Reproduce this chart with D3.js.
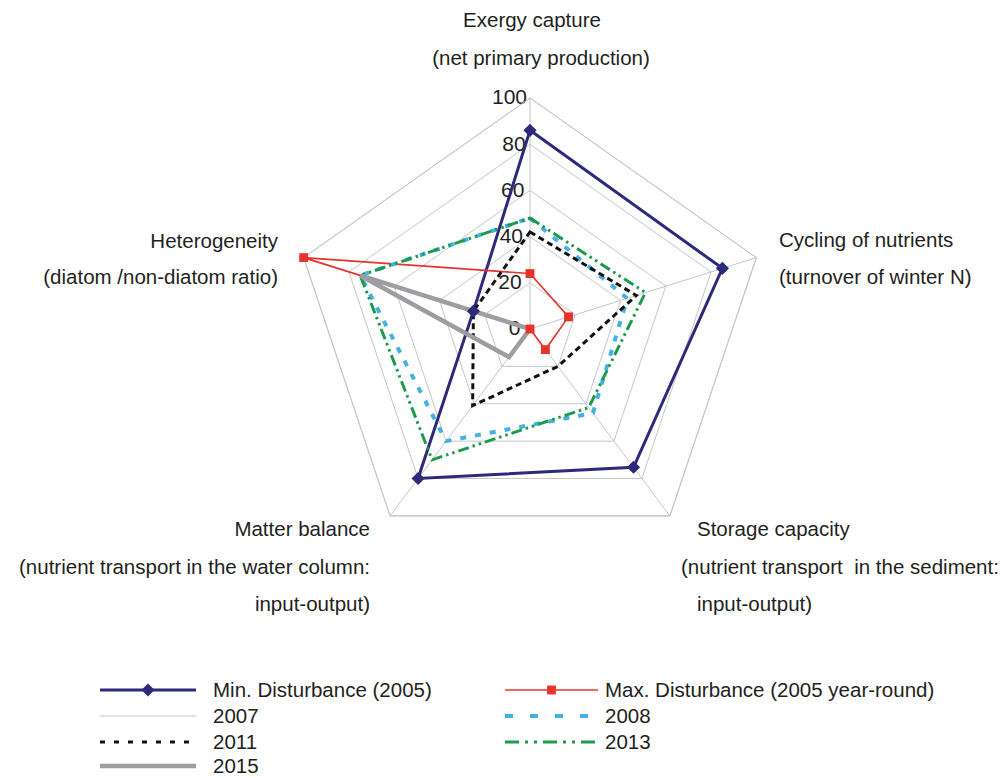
<!DOCTYPE html>
<html>
<head>
<meta charset="utf-8">
<script src="https://cdn.jsdelivr.net/npm/d3@7"></script>
<style>
  body { margin: 0; background: #fff; }
  svg text { font-family: "Liberation Sans", Arial, sans-serif; fill: #231f20; }
</style>
</head>
<body>
<div id="chart"></div>
<script>
// axes, clockwise from the top
var axes = ["Exergy capture", "Cycling of nutrients", "Storage capacity", "Matter balance", "Heterogeneity"];
var axisSub = [
  ["(net primary production)"],
  ["(turnover of winter N)"],
  ["(nutrient transport  in the sediment:", "input-output)"],
  ["(nutrient transport in the water column:", "input-output)"],
  ["(diatom /non-diatom ratio)"]
];
var ticks = [0, 20, 40, 60, 80, 100];

var seriesNames = ["Min. Disturbance (2005)", "Max. Disturbance (2005 year-round)", "2007", "2008", "2011", "2013", "2015"];
var minDist  = [86, 85, 74, 80, 25];
var maxDist  = [24, 17, 11, 0, 100];
var y2007    = [100, 100, 100, 100, 100];
var y2008    = [48, 43, 45, 60, 75];
var y2011    = [42, 47, 20, 41, 25];
var y2013    = [48, 51, 42, 70, 75];
var y2015    = [0, 0, 0, 15, 75];

var width = 1001, height = 778;
var cx = 530, cy = 329;

var svg = d3.select("#chart").append("svg")
  .attr("width", width)
  .attr("height", height);

// picture is slightly wider than tall
var rx = d3.scaleLinear().domain([0, 100]).range([0, 238]);
var ry = d3.scaleLinear().domain([0, 100]).range([0, 231]);
var angle = d3.scalePoint().domain(axes).range([0, 2 * Math.PI * 4 / 5]);

function pt(axis, v) {
  var a = angle(axis);
  return [cx + rx(v) * Math.sin(a), cy - ry(v) * Math.cos(a)];
}

// grid
var grid = svg.append("g");
ticks.slice(1).forEach(function(t) {
  grid.append("path")
    .attr("d", d3.line()(axes.map(function(a) { return pt(a, t); })) + "Z")
    .attr("fill", "none")
    .attr("stroke", "#c6c6c6")
    .attr("stroke-width", 1);
});
axes.forEach(function(a) {
  var p = pt(a, 100);
  grid.append("line")
    .attr("x1", cx).attr("y1", cy)
    .attr("x2", p[0]).attr("y2", p[1])
    .attr("stroke", "#c6c6c6")
    .attr("stroke-width", 1);
});

// tick labels along the top spoke
svg.append("g").selectAll("text")
  .data(ticks)
  .enter().append("text")
  .attr("x", function(d) { return cx - 3 - (100 - d) / 15; })
  .attr("y", function(d) { return pt(axes[0], d)[1] - 1; })
  .attr("dy", "0.35em")
  .attr("text-anchor", "end")
  .style("font-size", "21px")
  .text(function(d) { return d; });

// axis labels
var labelPos = [
  {x: [532, 541], y: [20, 58], anchor: "middle"},
  {x: [779, 779], y: [240, 277], anchor: "start"},
  {x: [697, 681, 697], y: [529, 567, 604], anchor: "start"},
  {x: [370, 370, 370], y: [529, 567, 604], anchor: "end"},
  {x: [278, 278], y: [241, 277], anchor: "end"}
];
axes.forEach(function(a, i) {
  var lines = [a].concat(axisSub[i]);
  var lp = labelPos[i];
  svg.append("g").selectAll("text")
    .data(lines)
    .enter().append("text")
    .attr("x", function(d, j) { return lp.x[j]; })
    .attr("y", function(d, j) { return lp.y[j]; })
    .attr("dy", "0.35em")
    .attr("text-anchor", lp.anchor)
    .style("font-size", "20.5px")
    .style("white-space", "pre")
    .text(function(d) { return d; });
});

var styles = [
  {color: "#2e2a7b", w: 3, dash: null, marker: "diamond"},
  {color: "#e8332a", w: 1.6, dash: null, marker: "square"},
  {color: "#c6c6c6", w: 1, dash: null},
  {color: "#45b1e2", w: 4, dash: "6,9"},
  {color: "#111111", w: 3, dash: "6,4"},
  {color: "#1d9a4c", w: 3, dash: "11,4,2.5,4,2.5,4"},
  {color: "#9c9ea2", w: 4.5, dash: null}
];
// legend samples are drawn with wider gaps, like the original
var legendDash = [null, null, null, "8,17", "5,9", "14,6,3,6,3,6", null];
var allSeries = [minDist, maxDist, y2007, y2008, y2011, y2013, y2015];

var lineGen = d3.line();
var plot = svg.append("g");
allSeries.forEach(function(vals, i) {
  var s = styles[i];
  plot.append("path")
    .attr("d", lineGen(vals.map(function(v, k) { return pt(axes[k], v); })) + "Z")
    .attr("fill", "none")
    .attr("stroke", s.color)
    .attr("stroke-width", s.w)
    .attr("stroke-linejoin", "miter")
    .attr("stroke-dasharray", s.dash);
});

var sym = {
  diamond: d3.symbol().type(d3.symbolDiamond2).size(110),
  square: d3.symbol().type(d3.symbolSquare2).size(100)
};
allSeries.forEach(function(vals, i) {
  var s = styles[i];
  if (!s.marker) return;
  plot.append("g").selectAll("path")
    .data(vals)
    .enter().append("path")
    .attr("transform", function(v, k) { var p = pt(axes[k], v); return "translate(" + p[0] + "," + p[1] + ")"; })
    .attr("d", sym[s.marker])
    .attr("fill", s.color)
    .attr("stroke", "none");
});

// legend, two columns
var legendRows = [690, 716, 742, 766];
var legendCols = [{x1: 100, x2: 196, tx: 213}, {x1: 505, x2: 598, tx: 605}];
var legend = svg.append("g");
seriesNames.forEach(function(name, i) {
  var c = legendCols[i % 2], y = legendRows[Math.floor(i / 2)], s = styles[i];
  legend.append("line")
    .attr("x1", c.x1).attr("x2", c.x2)
    .attr("y1", y).attr("y2", y)
    .attr("stroke", s.color)
    .attr("stroke-width", s.w)
    .attr("stroke-dasharray", legendDash[i]);
  if (s.marker) {
    legend.append("path")
      .attr("transform", "translate(" + (c.x1 + c.x2) / 2 + "," + y + ")")
      .attr("d", sym[s.marker])
      .attr("fill", s.color);
  }
  legend.append("text")
    .attr("x", c.tx)
    .attr("y", y)
    .attr("dy", "0.35em")
    .style("font-size", "20.5px")
    .text(name);
});
</script>
</body>
</html>
